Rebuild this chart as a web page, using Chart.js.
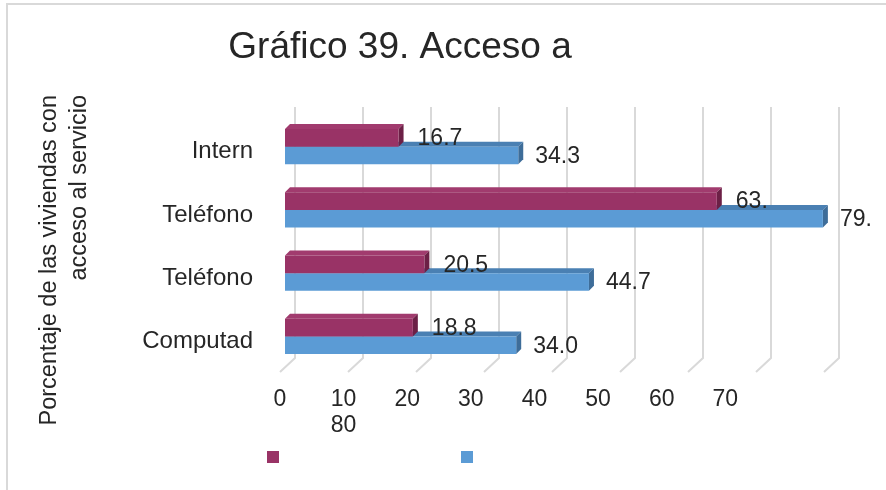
<!DOCTYPE html>
<html>
<head>
<meta charset="utf-8">
<title>Gráfico 39</title>
<script src="https://cdn.jsdelivr.net/npm/chart.js@4.4.1/dist/chart.umd.min.js"></script>
<style>
    html, body { margin: 0; padding: 0; background: #fff; }
    #wrap { position: relative; width: 886px; height: 490px; }
</style>
</head>
<body>
<div id="wrap"><canvas id="chart_acceso"></canvas></div>
<script>
// datos
const categories = ['Intern', 'Teléfono', 'Teléfono', 'Computad'];
const serieA = [16.7, 63.5, 20.5, 18.8];
const serieB = [34.3, 79.1, 44.7, 34.0];
const labelsA = ['16.7', '63.', '20.5', '18.8'];
const labelsB = ['34.3', '79.', '44.7', '34.0'];
const gridValues = [0, 10, 20, 30, 40, 50, 60, 70, 80];
const tickValues = [0, 10, 20, 30, 40, 50, 60, 70];
const tickLabels = ['0', ['10', '80'], '20', '30', '40', '50', '60', '70'];
const chartTitle = 'Gráfico 39. Acceso a';
const axisTitle = ['Porcentaje de las viviendas con', 'acceso al servicio'];

const FONT = "'Liberation Sans', Arial, sans-serif";
const TEXT = '#262626';
const colors = [
    { front: '#993366', top: '#a13b6e', side: '#6c2046' },
    { front: '#5b9bd5', top: '#4a80b3', side: '#3e6d99' }
];
const DEPTH = 5;

// marco, titulo, titulo del eje y leyenda
const decorPlugin = {
    id: 'decor',
    beforeDraw(chart) {
        const ctx = chart.ctx;
        ctx.save();
        ctx.strokeStyle = '#d9d9d9';
        ctx.lineWidth = 2;
        ctx.beginPath();
        ctx.moveTo(7, 490);
        ctx.lineTo(7, 4);
        ctx.lineTo(886, 4);
        ctx.stroke();
        ctx.restore();
    },
    afterDraw(chart) {
        const ctx = chart.ctx;
        ctx.save();
        ctx.fillStyle = TEXT;
        ctx.font = `37px ${FONT}`;
        ctx.textAlign = 'center';
        ctx.textBaseline = 'alphabetic';
        ctx.fillText(chartTitle, 400, 58);

        ctx.font = `23.5px ${FONT}`;
        ctx.translate(0, 95);
        ctx.rotate(-Math.PI / 2);
        ctx.textAlign = 'right';
        ctx.textBaseline = 'middle';
        axisTitle.forEach((line, i) => ctx.fillText(line, 0, 50 + i * 30));
        ctx.restore();

        ctx.save();
        const boxes = [267, 461];
        chart.data.datasets.forEach((ds, i) => {
            ctx.fillStyle = ds.backgroundColor;
            ctx.fillRect(boxes[i], 451, 12, 12);
        });
        ctx.restore();
    }
};

// rejilla de fondo y caras 3D de las barras
const depthPlugin = {
    id: 'depth',
    beforeDatasetsDraw(chart) {
        const ctx = chart.ctx;
        const x = chart.scales.x;
        const area = chart.chartArea;
        ctx.save();
        ctx.strokeStyle = '#d9d9d9';
        ctx.lineWidth = 2;
        gridValues.forEach(v => {
            const px = x.getPixelForValue(v) + 10;
            ctx.beginPath();
            ctx.moveTo(px, area.top - 8);
            ctx.lineTo(px, area.bottom - 10);
            ctx.lineTo(px - 15, area.bottom + 4);
            ctx.stroke();
        });

        for (let i = chart.data.datasets.length - 1; i >= 0; i--) {
            const meta = chart.getDatasetMeta(i);
            meta.data.forEach(bar => {
                const p = bar.getProps(['x', 'y', 'base', 'height'], true);
                const top = p.y - p.height / 2;
                const bottom = p.y + p.height / 2;
                ctx.fillStyle = colors[i].top;
                ctx.beginPath();
                ctx.moveTo(p.base, top);
                ctx.lineTo(p.base + DEPTH, top - DEPTH);
                ctx.lineTo(p.x + DEPTH, top - DEPTH);
                ctx.lineTo(p.x, top);
                ctx.closePath();
                ctx.fill();
                ctx.fillStyle = colors[i].side;
                ctx.beginPath();
                ctx.moveTo(p.x, top);
                ctx.lineTo(p.x + DEPTH, top - DEPTH);
                ctx.lineTo(p.x + DEPTH, bottom - DEPTH);
                ctx.lineTo(p.x, bottom);
                ctx.closePath();
                ctx.fill();
            });
        }
        ctx.restore();
    },
    afterDatasetsDraw(chart) {
        const ctx = chart.ctx;
        const texts = [labelsA, labelsB];
        const gaps = [19, 17];
        ctx.save();
        ctx.fillStyle = TEXT;
        ctx.font = `23px ${FONT}`;
        ctx.textAlign = 'left';
        ctx.textBaseline = 'middle';
        chart.data.datasets.forEach((ds, i) => {
            chart.getDatasetMeta(i).data.forEach((bar, j) => {
                ctx.fillText(texts[i][j], bar.x + gaps[i], bar.y + 1);
            });
        });
        ctx.restore();
    }
};

new Chart(document.querySelector('#chart_acceso'), {
    type: 'bar',
    data: {
        labels: categories,
        datasets: [
            {
                label: '',
                data: serieA,
                backgroundColor: colors[0].front,
                borderWidth: 0,
                categoryPercentage: 0.56,
                barPercentage: 1.0
            },
            {
                label: '',
                data: serieB,
                backgroundColor: colors[1].front,
                borderWidth: 0,
                categoryPercentage: 0.56,
                barPercentage: 1.0
            }
        ]
    },
    options: {
        indexAxis: 'y',
        responsive: true,
        maintainAspectRatio: false,
        devicePixelRatio: 1,
        animation: false,
        layout: {
            padding: { top: 115, right: 57, bottom: 0, left: 0 }
        },
        plugins: {
            legend: { display: false },
            title: { display: false },
            tooltip: { enabled: false }
        },
        scales: {
            x: {
                display: false,
                min: 0,
                max: 80
            },
            xt: {
                type: 'linear',
                position: 'bottom',
                bounds: 'data',
                min: 0.79,
                max: 86.3,
                grid: { display: false, drawTicks: false },
                border: { display: false },
                afterBuildTicks: axis => {
                    axis.ticks = tickValues.map(v => ({ value: v }));
                },
                afterFit: scale => { scale.height = 122; },
                ticks: {
                    autoSkip: false,
                    maxRotation: 0,
                    padding: 18,
                    color: TEXT,
                    font: { family: FONT, size: 23, lineHeight: 1.15 },
                    callback: (value, index) => tickLabels[index]
                }
            },
            y: {
                grid: { display: false, drawTicks: false },
                border: { display: false },
                afterFit: scale => { scale.width = 285; },
                ticks: {
                    padding: 32,
                    labelOffset: 5,
                    color: TEXT,
                    font: { family: FONT, size: 24 }
                }
            }
        }
    },
    plugins: [decorPlugin, depthPlugin]
});
</script>
</body>
</html>
